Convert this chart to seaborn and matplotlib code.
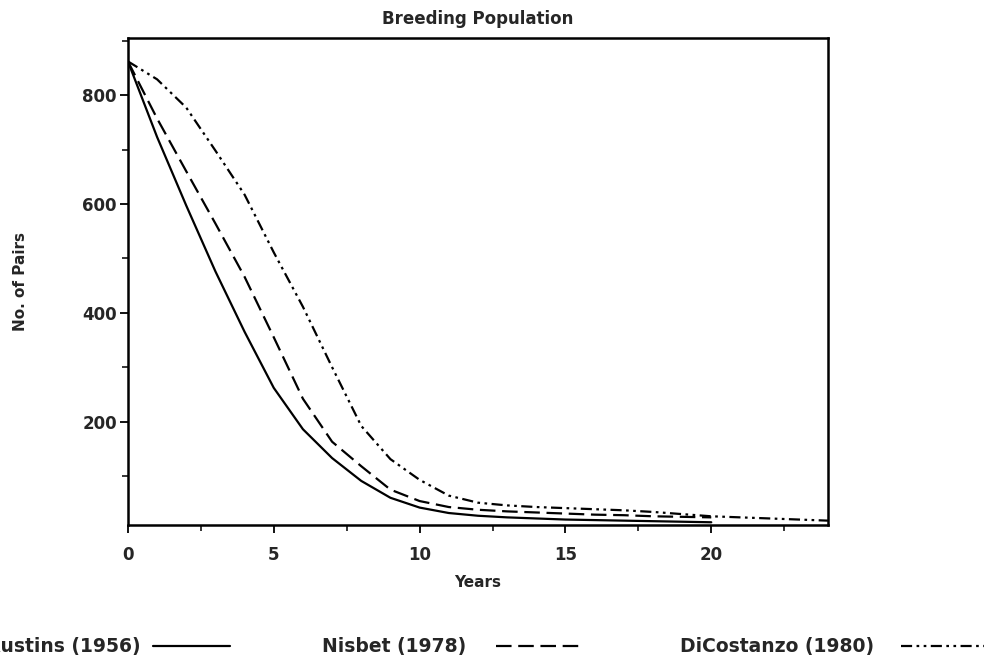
import pandas as pd
import matplotlib
matplotlib.use("Agg")
import matplotlib.pyplot as plt
from matplotlib.lines import Line2D
from matplotlib.ticker import MultipleLocator
import seaborn as sns

# values (pairs per year)
years_austin = list(range(0, 21))
austin = [862, 723, 597, 476, 365, 262, 186, 133, 91, 60, 42,
          32, 27, 24, 22, 20, 19, 18, 17, 16, 15]

years_nisbet = list(range(0, 21))
nisbet = [862, 757, 660, 564, 466, 355, 242, 163, 118, 75, 54,
          43, 38, 35, 33, 31, 29, 28, 26, 25, 24]

years_dicostanzo = list(range(0, 25))
dicostanzo = [862, 829, 777, 698, 617, 511, 411, 300, 192, 131, 93,
              64, 51, 46, 43, 41, 39, 37, 34, 30, 26, 24, 22, 20, 18]

labels = ["Austins (1956)", "Nisbet (1978)", "DiCostanzo (1980)"]
dash_styles = {
    labels[0]: "",
    labels[1]: (7, 3),
    labels[2]: (5, 2, 1.2, 2, 1.2, 2),
}

df = pd.concat([
    pd.DataFrame({"Years": years_austin, "Pairs": austin, "source": labels[0]}),
    pd.DataFrame({"Years": years_nisbet, "Pairs": nisbet, "source": labels[1]}),
    pd.DataFrame({"Years": years_dicostanzo, "Pairs": dicostanzo, "source": labels[2]}),
], ignore_index=True)

sns.set_style("ticks")
plt.rcParams["font.family"] = ["DejaVu Sans"]
plt.rcParams["font.weight"] = "bold"

fig = plt.figure(figsize=(9.84, 6.71), dpi=100)
ax = fig.add_axes([0.130, 0.2176, 0.7114, 0.7258])

sns.lineplot(data=df, x="Years", y="Pairs", style="source", style_order=labels,
             dashes=dash_styles, color="black", linewidth=1.6, legend=False, ax=ax)

ax.set_xlim(0, 24)
ax.set_ylim(10, 905)
ax.xaxis.set_major_locator(MultipleLocator(5))
ax.xaxis.set_minor_locator(MultipleLocator(2.5))
ax.set_yticks([200, 400, 600, 800])
ax.yaxis.set_minor_locator(MultipleLocator(100))
ax.tick_params(which="major", length=6, width=1.3, labelsize=12, color="black")
ax.tick_params(axis="x", which="major", pad=9)
ax.tick_params(axis="y", which="major", pad=2)
ax.tick_params(which="minor", length=4, width=1.1, color="black")
for lab in ax.get_xticklabels() + ax.get_yticklabels():
    lab.set_fontweight("bold")

for side in ["top", "right", "left", "bottom"]:
    ax.spines[side].set_visible(True)
    ax.spines[side].set_linewidth(1.8)
    ax.spines[side].set_color("black")

ax.set_title("Breeding Population", fontsize=12, fontweight="bold", pad=10)
ax.set_xlabel("Years", fontsize=11, fontweight="bold", labelpad=8)
ax.set_ylabel("No. of Pairs", fontsize=11, fontweight="bold", labelpad=39)

# one legend entry per column, text first then the line sample
legend_x = [-0.0147, 0.327, 0.691]
legend_pad = [0.7, 1.6, 1.45]
legend_len = [4.1, 4.6, 4.6]
for lab, lx, pad, hl in zip(labels, legend_x, legend_pad, legend_len):
    ls = "-" if dash_styles[lab] == "" else (0, dash_styles[lab])
    h = Line2D([], [], color="black", linewidth=1.6, linestyle=ls)
    fig.legend([h], [lab], loc="center left", bbox_to_anchor=(lx, 0.036),
               frameon=False, markerfirst=False, handlelength=hl,
               handletextpad=pad, borderpad=0, borderaxespad=0,
               prop={"size": 13.5, "weight": "bold"})

fig.savefig("out.png", dpi=100)
